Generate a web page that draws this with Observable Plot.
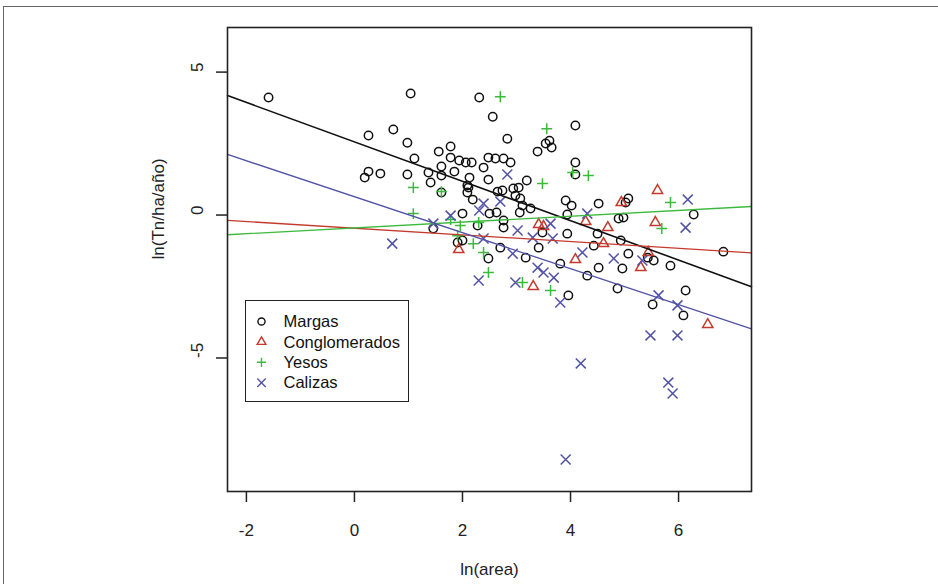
<!DOCTYPE html>
<html>
<head>
<meta charset="utf-8">
<script src="https://cdn.jsdelivr.net/npm/d3@7"></script>
<script src="https://cdn.jsdelivr.net/npm/@observablehq/plot@0.6"></script>
<style>
  body { margin: 0; background: #fff; font-family: "Liberation Sans", Arial, sans-serif; }
  #wrap { position: relative; width: 938px; height: 584px; overflow: hidden; background: #fff; }
  #outer { position: absolute; left: 3px; top: 6px; width: 1000px; height: 700px; border: 1.5px solid #666; box-sizing: border-box; }
  #chart { position: absolute; left: 0; top: 0; }
  #legend { position: absolute; left: 245px; top: 300px; width: 164px; height: 102px; border: 1.5px solid #222; background: #fff; box-sizing: border-box; }
  #legend svg { position: absolute; left: -1.5px; top: -1.5px; }
</style>
</head>
<body>
<div id="wrap">
  <div id="outer"></div>
  <div id="chart"></div>
  <div id="legend"></div>
</div>
<script>
// ---- data ----
const groups = ["Margas", "Conglomerados", "Yesos", "Calizas"];

const margasX = [-1.59,1.04,2.31,2.56,2.83,4.09,3.39,3.54,3.61,3.65,4.09,4.09,0.26,0.72,0.98,1.11,0.19,0.26,0.48,0.98,1.37,1.41,1.56,1.78,1.61,1.61,1.78,1.85,1.94,2.06,2.17,2.09,2.39,2.48,2.61,2.76,2.89,2.13,2.48,2.11,2.09,2.19,2.65,2.74,2.94,3.04,3.19,2.98,3.07,3.11,3.06,3.26,2.50,2.63,2.76,2.00,2.28,2.76,3.91,4.02,3.94,4.52,5.07,5.02,4.89,4.98,6.28,3.94,4.50,2.70,2.48,3.41,3.17,3.48,3.81,3.96,4.31,4.52,4.43,4.93,5.07,4.96,5.54,5.43,5.85,4.87,5.52,6.13,6.09,6.83,1.46,1.91,2.00,1.61];
const margasY = [4.11,4.25,4.11,3.44,2.67,3.13,2.22,2.50,2.60,2.36,1.84,1.42,2.78,2.99,2.53,1.98,1.31,1.52,1.45,1.42,1.49,1.14,2.22,2.40,1.70,1.38,2.01,1.52,1.91,1.84,1.84,1.03,1.66,2.01,1.98,1.98,1.84,1.31,1.24,0.96,0.79,0.54,0.82,0.86,0.93,0.96,1.21,0.68,0.58,0.33,0.09,0.23,0.05,0.09,-0.19,0.05,-0.37,-0.44,0.51,0.33,0.02,0.40,0.58,0.44,-0.12,-0.09,0.02,-0.65,-0.65,-1.14,-1.52,-1.14,-1.49,-0.61,-1.70,-2.81,-2.12,-1.84,-1.07,-0.89,-1.35,-1.87,-1.59,-1.49,-1.77,-2.57,-3.13,-2.64,-3.51,-1.28,-0.47,-0.96,-0.89,0.79];

const conglomeradosX = [5.61,4.94,3.41,3.50,4.28,4.69,5.57,1.93,4.61,4.09,5.30,5.44,3.31,6.54];
const conglomeradosY = [0.86,0.44,-0.33,-0.40,-0.23,-0.44,-0.26,-1.21,-1.00,-1.56,-1.84,-1.31,-2.50,-3.83];

const yesosX = [2.70,3.56,4.04,4.33,3.48,5.85,5.69,1.09,1.09,1.61,1.96,2.20,2.39,2.48,3.11,3.63,2.30,1.91,1.78];
const yesosY = [4.14,3.02,1.49,1.38,1.10,0.44,-0.47,0.96,0.05,0.82,-0.37,-1.00,-1.31,-2.01,-2.36,-2.64,-0.26,-0.72,-0.16];

const calizasX = [1.78,1.46,0.70,2.83,6.17,6.13,2.39,2.31,2.70,4.31,3.02,2.39,3.30,3.67,4.22,4.80,5.33,2.93,3.39,3.50,3.69,2.30,2.98,3.81,5.63,5.98,5.48,5.98,4.19,5.81,5.89,3.91,3.63];
const calizasY = [-0.02,-0.30,-1.00,1.42,0.54,-0.44,0.40,0.16,0.47,0.05,-0.54,-0.82,-0.79,-0.82,-1.31,-1.52,-1.59,-1.35,-1.84,-2.01,-2.19,-2.29,-2.36,-3.06,-2.81,-3.16,-4.21,-4.21,-5.19,-5.86,-6.24,-8.55,-0.30];

// fitted lines (intercept, slope) per group
const lineIntercepts = [2.56, -0.46, -0.45, 0.64];
const lineSlopes = [-0.689, -0.117, 0.102, -0.629];

const xTicks = [-2, 0, 2, 4, 6];
const yTicks = [-5, 0, 5];
const xDomain = [-2.35, 7.35];
const yDomain = [-9.67, 6.56];

// ---- styles ----
const colors = ["#111111", "#c43a2c", "#3cba3c", "#5252a8"];
const symbols = ["circle", "triangle", "plus", "times"];
const d3symbols = [d3.symbolCircle, d3.symbolTriangle, d3.symbolPlus, d3.symbolTimes];
const radii = [4.2, 3.8, 3.6, 4.6];
const FONT = 17;

const series = [
  [margasX, margasY],
  [conglomeradosX, conglomeradosY],
  [yesosX, yesosY],
  [calizasX, calizasY]
];

const marks = [];
series.forEach(([xs, ys], g) => {
  const data = xs.map((x, i) => ({x, y: ys[i]}));
  marks.push(Plot.dot(data, {
    x: "x", y: "y", symbol: symbols[g], r: radii[g],
    stroke: colors[g], fill: "none", strokeWidth: 1.5
  }));
});
series.forEach((s, g) => {
  const data = xDomain.map(x => ({x, y: lineIntercepts[g] + lineSlopes[g] * x}));
  marks.push(Plot.line(data, {x: "x", y: "y", stroke: colors[g], strokeWidth: g === 0 ? 1.6 : 1.3}));
});

marks.push(
  Plot.frame({stroke: "#222", strokeWidth: 1.6}),
  Plot.axisX({ticks: xTicks, tickSize: 11, tickPadding: 21, tickFormat: d => String(d),
              label: null, fontSize: FONT, stroke: "#222", strokeWidth: 1.5, fill: "#222"}),
  Plot.axisY({ticks: yTicks, tickSize: 11, tickFormat: () => "", label: null,
              stroke: "#222", strokeWidth: 1.5}),
  Plot.text(yTicks, {y: d => d, text: d => String(d), frameAnchor: "left", dx: -30,
                     rotate: -90, fontSize: FONT, fill: "#222"}),
  Plot.text(["ln(area)"], {text: d => d, frameAnchor: "bottom", dy: 83, fontSize: FONT, fill: "#222"}),
  Plot.text(["ln(Tn/ha/año)"], {text: d => d, frameAnchor: "left", dx: -69, rotate: -90, fontSize: FONT, fill: "#222"})
);

const chart = Plot.plot({
  width: 938,
  height: 584,
  marginLeft: 227,
  marginRight: 187,
  marginTop: 27,
  marginBottom: 93,
  x: {domain: xDomain},
  y: {domain: yDomain},
  style: {fontFamily: "Liberation Sans, Arial, sans-serif", fontSize: FONT + "px", background: "transparent", overflow: "visible"},
  marks
});
document.getElementById("chart").appendChild(chart);

// ---- legend ----
const leg = d3.select("#legend").append("svg").attr("width", 164).attr("height", 102);
groups.forEach((name, i) => {
  const cy = 21.5 + i * 20.4;
  leg.append("path")
    .attr("d", d3.symbol(d3symbols[i], Math.PI * (radii[i] * 0.85) ** 2)())
    .attr("transform", `translate(16.5,${cy})`)
    .attr("fill", "none").attr("stroke", colors[i]).attr("stroke-width", 1.4);
  leg.append("text")
    .attr("x", 38.5).attr("y", cy).attr("dy", "0.35em")
    .attr("font-size", FONT - 0.5).attr("fill", "#111")
    .attr("font-family", "Liberation Sans, Arial, sans-serif")
    .text(name);
});
</script>
</body>
</html>
